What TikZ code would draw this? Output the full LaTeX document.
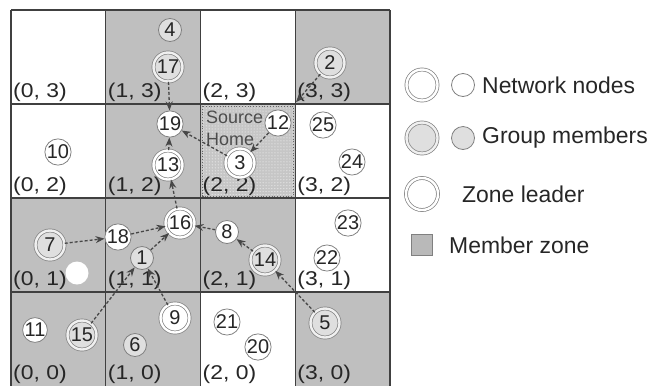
\documentclass[tikz,border=0pt]{standalone}
\usepackage{fontspec}
\setmainfont{Liberation Sans}
\newfontfamily\cellfont{Liberation Sans}[FakeStretch=1.15]
\usetikzlibrary{arrows.meta,patterns}

\def\cellw{94.75}
\def\cellh{94}

\begin{document}
\begin{tikzpicture}[
	x=1bp, y=-1bp,
	every node/.style = {text=black!85},
	gridline/.style   = {draw=black!75, line width=1.2bp},
	memberzone/.style = {fill=gray!50},
	cellmark/.style   = {anchor=south west, inner sep=2bp, font=\cellfont\fontsize{20}{24}\selectfont},
	plainnode/.style  = {circle, draw=gray, line width=0.8bp, fill=white, minimum size=23bp,
		inner sep=0pt, font=\fontsize{20}{22}\selectfont},
	membernode/.style = {plainnode, fill=gray!25},
	leadnode/.style   = {plainnode, minimum size=29bp, double=white, double distance=2.4bp, line width=0.7bp},
	memberlead/.style = {leadnode, fill=gray!25, double=gray!12},
	hop/.style        = {dashed, dash pattern=on 3bp off 2bp, draw=black!72, line width=1.3bp,
		-{Stealth[length=9bp,width=7bp]}},
	legendtext/.style = {anchor=west, inner sep=0pt, font=\fontsize{23}{26}\selectfont}
	]
	\useasboundingbox (0,0) rectangle (653,386);
	
	% ===================== Zones =====================
	\foreach \i/\j in {1/3,3/3,1/2,0/1,1/1,2/1,0/0,1/0,3/0}
		\fill[memberzone] ({11+\cellw*\i},{10+\cellh*(3-\j)}) rectangle ++(\cellw,\cellh);
	
	% source home zone (2, 2)
	\fill[gray!45] ({11+\cellw*2},{10+\cellh}) rectangle ++(\cellw,\cellh);
	\fill[pattern=dots, pattern color=white] ({11+\cellw*2},{10+\cellh}) rectangle ++(\cellw,\cellh);
	\draw[dotted, black!60, line width=0.8bp] ({13+\cellw*2},{12+\cellh}) rectangle ++({\cellw-4},{\cellh-4});
	
	\foreach \i in {0,...,4}
		\draw[gridline] ({11+\cellw*\i},10) -- ({11+\cellw*\i},386);
	\foreach \i in {0,...,3}
		\draw[gridline] (11,{10+\cellh*\i}) -- (390,{10+\cellh*\i});
	
	\foreach \i in {0,...,3}
		\foreach \j in {0,...,3}
			\node[cellmark] (c\i\j) at ({11+\cellw*\i},{10+\cellh*(4-\j)}) {(\i, \j)};
	
	\node[anchor=north west, align=left, inner sep=0pt, text=black!70,
		font=\fontsize{18}{22}\selectfont] (home) at (206,111) {Source\\Home};
	
	% ===================== Nodes =====================
	\node[membernode] (n4)  at (170,30)  {4};
	\node[memberlead] (n17) at (168,67)  {17};
	\node[plainnode]  (n19) at (170,124) {19};
	\node[leadnode]   (n13) at (168,165) {13};
	\node[plainnode]  (n10) at (58,152)  {10};
	\node[memberlead] (n2)  at (330,63)  {2};
	\node[plainnode]  (n12) at (278,123) {12};
	\node[leadnode]   (n3)  at (240,163) {3};
	\node[plainnode]  (n25) at (323,125) {25};
	\node[plainnode]  (n24) at (352,162) {24};
	
	\node[leadnode]   (n16) at (180,223) {16};
	\node[plainnode]  (n18) at (118,237) {18};
	\node[memberlead] (n7)  at (50,245)  {7};
	\node[plainnode, draw=none] (blank) at (77,273) {};
	\node[membernode] (n1)  at (142,258) {1};
	\node[plainnode]  (n8)  at (227,232) {8};
	\node[memberlead] (n14) at (265,260) {14};
	\node[plainnode]  (n23) at (348,223) {23};
	\node[plainnode]  (n22) at (327,258) {22};
	
	\node[leadnode]   (n9)  at (175,318) {9};
	\node[memberlead] (n15) at (82,335)  {15};
	\node[plainnode]  (n11) at (35,330)  {11};
	\node[membernode] (n6)  at (135,345) {6};
	\node[plainnode]  (n21) at (227,322) {21};
	\node[plainnode]  (n20) at (258,347) {20};
	\node[memberlead] (n5)  at (325,323) {5};
	
	% ===================== Forwarding paths =====================
	\draw[hop] (n17) -- (n19);
	\draw[hop] (n13) -- (n19);
	\draw[hop] (n3) -- (n19);
	\draw[hop] (n12) -- (n3);
	\draw[hop, shorten >=14bp] (n2) -- (n12);
	\draw[hop] (n16) -- (n13);
	\draw[hop] (n18) -- (n16);
	\draw[hop] (n1) -- (n16);
	\draw[hop] (n8) -- (n16);
	\draw[hop] (n7) -- (n18);
	\draw[hop] (n14) -- (n8);
	\draw[hop] (n5) -- (n14);
	\draw[hop] (n9) -- (n1);
	\draw[hop] (n15) -- (n1);
	
	% ===================== Legend =====================
	\node[leadnode, minimum size=31bp] (lgA) at (422,85) {};
	\node[plainnode] (lgAs) at (463,85) {};
	\node[legendtext] (lgAt) at (482,85) {Network nodes};
	
	\node[memberlead, minimum size=31bp] (lgB) at (422,138) {};
	\node[membernode] (lgBs) at (463,138) {};
	\node[legendtext] (lgBt) at (482,138) {Group members};
	
	\node[leadnode, minimum size=32bp] (lgC) at (422,194) {};
	\node[legendtext] (lgCt) at (462,194) {Zone leader};
	
	\node[draw=gray, fill=gray!55, minimum size=21bp, inner sep=0pt] (lgD) at (422,245) {};
	\node[legendtext] (lgDt) at (449,245) {Member zone};
	
\end{tikzpicture}
\end{document}
